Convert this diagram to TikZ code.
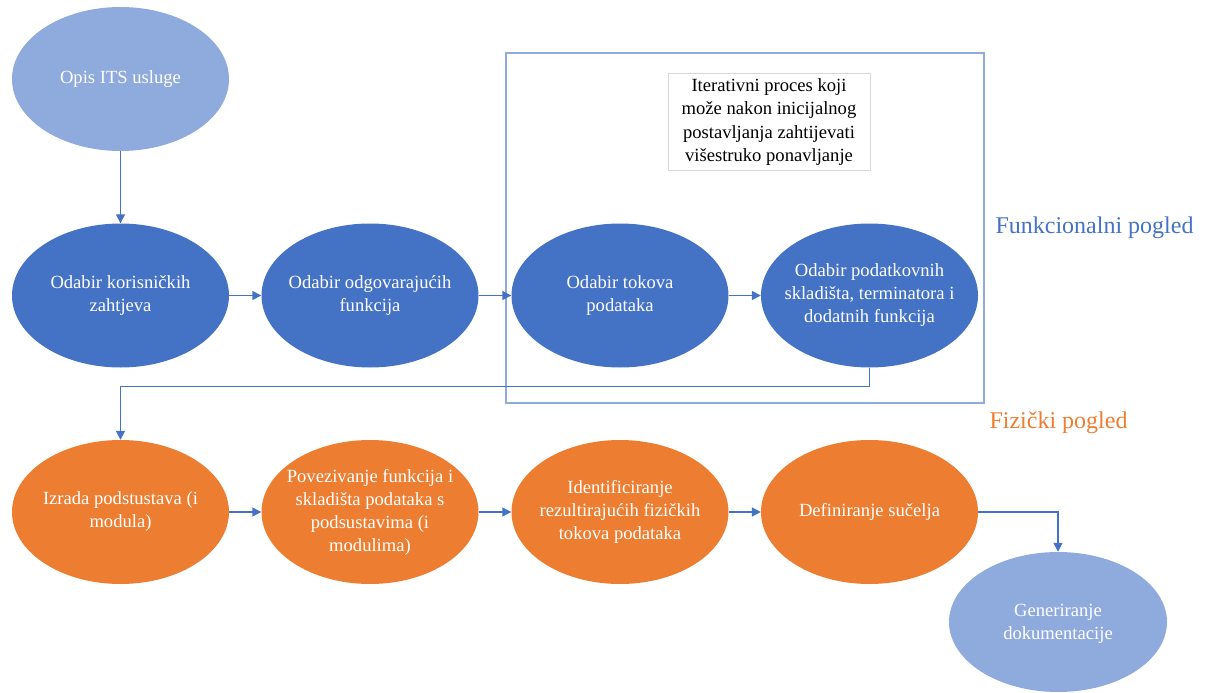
\documentclass[tikz,border=0pt]{standalone}
\usepackage{fontspec}
\setmainfont{Liberation Serif}
\newfontfamily\tnr{Liberation Serif}
\usetikzlibrary{shapes.geometric,arrows.meta}
\definecolor{dblue}{HTML}{4472C4}
\definecolor{lblue}{HTML}{8FAADC}
\definecolor{orng}{HTML}{ED7D31}
\definecolor{framec}{HTML}{8FAADC}
\tikzset{
  ell/.style={ellipse, minimum width=217pt, minimum height=144pt, inner sep=0pt},
  funcell/.style={ell, fill=dblue},
  physell/.style={ell, fill=orng},
  lightell/.style={ell, fill=lblue},
  elltext/.style={align=center, text=white, inner sep=0pt, font=\tnr\fontsize{18.6}{23}\selectfont},
  conn/.style={draw=dblue, line width=1.4pt, -{Triangle[length=9pt,width=9pt]}},
  framebox/.style={draw=framec, line width=1.2pt},
  notebox/.style={draw=black!15, line width=1pt, fill=white, minimum width=202pt,
    minimum height=96pt, align=center, font=\tnr\fontsize{18.6}{23.3}\selectfont},
  viewlabel/.style={font=\tnr\fontsize{24}{28}\selectfont, inner sep=0pt}
}
\begin{document}
\begin{tikzpicture}[x=1pt,y=-1pt]
\useasboundingbox (0,0) rectangle (1205,693);
\draw[framebox] (506,53) rectangle (984,403);
\node[notebox] (note) at (769,122) {Iterativni proces koji\\može nakon inicijalnog\\postavljanja zahtijevati\\višestruko ponavljanje};

\node[lightell] (opis) at (120.5,79) {};
\node[elltext] (opist) at (opis) {Opis ITS usluge};

\node[funcell] (r1a) at (120.5,295.5) {};
\node[elltext] (r1at) at (r1a) {Odabir korisničkih\\zahtjeva};
\node[funcell] (r1b) at (370,295.5) {};
\node[elltext] (r1bt) at (r1b) {Odabir odgovarajućih\\funkcija};
\node[funcell] (r1c) at (620,295.5) {};
\node[elltext] (r1ct) at (r1c) {Odabir tokova\\podataka};
\node[funcell] (r1d) at (869.5,295.5) {};
\node[elltext] (r1dt) at (r1d) {Odabir podatkovnih\\skladišta, terminatora i\\dodatnih funkcija};

\node[physell] (r2a) at (120.5,512) {};
\node[elltext] (r2at) at (r2a) {Izrada podstustava (i\\modula)};
\node[physell] (r2b) at (370,512) {};
\node[elltext] (r2bt) at (r2b) {Povezivanje funkcija i\\skladišta podataka s\\podsustavima (i\\modulima)};
\node[physell] (r2c) at (620,512) {};
\node[elltext] (r2ct) at (r2c) {Identificiranje\\rezultirajućih fizičkih\\tokova podataka};
\node[physell] (r2d) at (869.5,512) {};
\node[elltext] (r2dt) at (r2d) {Definiranje sučelja};

\node[lightell, minimum width=218pt, minimum height=140pt] (gen) at (1058,622) {};
\node[elltext] (gent) at (1058,624) {Generiranje\\dokumentacije};

\node[viewlabel, text=dblue] (funcl) at (1094.5,228) {Funkcionalni pogled};
\node[viewlabel, text=orng] (physl) at (1058.5,423) {Fizički pogled};

\draw[conn] (opis) -- (r1a);
\draw[conn] (r1a) -- (r1b);
\draw[conn] (r1b) -- (r1c);
\draw[conn] (r1c) -- (r1d);
\draw[conn] (r1d.south) -- ++(0,19) -| (r2a.north);
\draw[conn] (r2a) -- (r2b);
\draw[conn] (r2b) -- (r2c);
\draw[conn] (r2c) -- (r2d);
\draw[conn] (r2d.east) -| (gen.north);
\end{tikzpicture}
\end{document}
